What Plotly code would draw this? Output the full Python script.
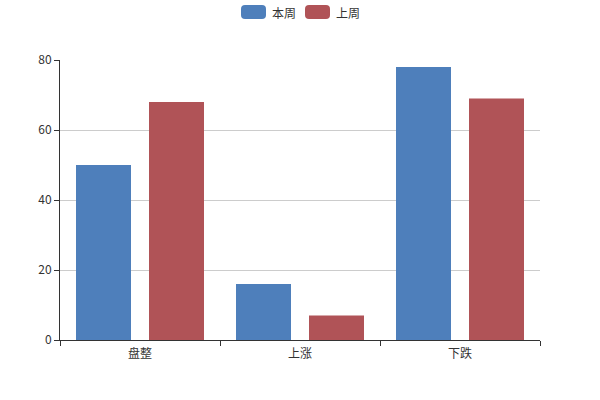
import plotly.graph_objects as go

categories = ["盘整", "上涨", "下跌"]
this_week = [50, 16, 78]
last_week = [68, 7, 69]
series_names = ["本周", "上周"]
colors = ["#4e7fbb", "#b05357"]

W, H = 600, 400
L, R, T, B = 60, 60, 60, 60
pw, ph = W - L - R, H - T - B

def px_x(px):
    return (px - L) / pw

def px_y(py):
    return (H - B - py) / ph

def rounded_rect(x0, y0, x1, y1, r):
    X = px_x
    Y = px_y
    return (f"M {X(x0 + r)},{Y(y0)} L {X(x1 - r)},{Y(y0)} Q {X(x1)},{Y(y0)} {X(x1)},{Y(y0 + r)} "
            f"L {X(x1)},{Y(y1 - r)} Q {X(x1)},{Y(y1)} {X(x1 - r)},{Y(y1)} "
            f"L {X(x0 + r)},{Y(y1)} Q {X(x0)},{Y(y1)} {X(x0)},{Y(y1 - r)} "
            f"L {X(x0)},{Y(y0 + r)} Q {X(x0)},{Y(y0)} {X(x0 + r)},{Y(y0)} Z")

fig = go.Figure()
fig.add_trace(go.Bar(x=categories, y=this_week, name=series_names[0], showlegend=False,
                     marker=dict(color=colors[0], line=dict(width=0))))
fig.add_trace(go.Bar(x=categories, y=last_week, name=series_names[1], showlegend=False,
                     marker=dict(color=colors[1], line=dict(width=0))))

font_family = "Noto Sans CJK SC, Microsoft YaHei, sans-serif"

# custom legend (ECharts style rounded swatches)
legend_items = [(241, 270), (305, 334)]
shapes = []
annotations = []
for (sx, tx), name, col in zip(legend_items, series_names, colors):
    shapes.append(dict(type="path", xref="paper", yref="paper",
                       path=rounded_rect(sx, 5, sx + 25, 19, 4),
                       fillcolor=col, line=dict(width=0)))
    annotations.append(dict(xref="paper", yref="paper", x=px_x(tx), y=px_y(12.5),
                            xanchor="left", yanchor="middle", text=name, showarrow=False,
                            font=dict(size=12, color="#333")))

fig.update_layout(
    width=W, height=H,
    margin=dict(l=L, r=R, t=T, b=B),
    paper_bgcolor="white", plot_bgcolor="white",
    font=dict(family=font_family, size=12, color="#333"),
    barmode="group", bargap=0.0875, bargroupgap=0.2466,
    showlegend=False,
    shapes=shapes, annotations=annotations,
    xaxis=dict(type="category", showline=True, linecolor="#333", linewidth=1,
               ticks="outside", tickson="boundaries", ticklen=5, tickcolor="#333",
               ticklabelstandoff=3,
               showgrid=False, tickfont=dict(color="#333")),
    yaxis=dict(range=[0, 80], dtick=20, showline=True, linecolor="#333", linewidth=1,
               ticks="outside", ticklen=5, tickcolor="#333",
               showgrid=True, gridcolor="#ccc", zeroline=False, tickfont=dict(color="#333")),
)
fig.write_html("out.html", config={"displayModeBar": False},
               post_script="document.body.style.margin='0';")
